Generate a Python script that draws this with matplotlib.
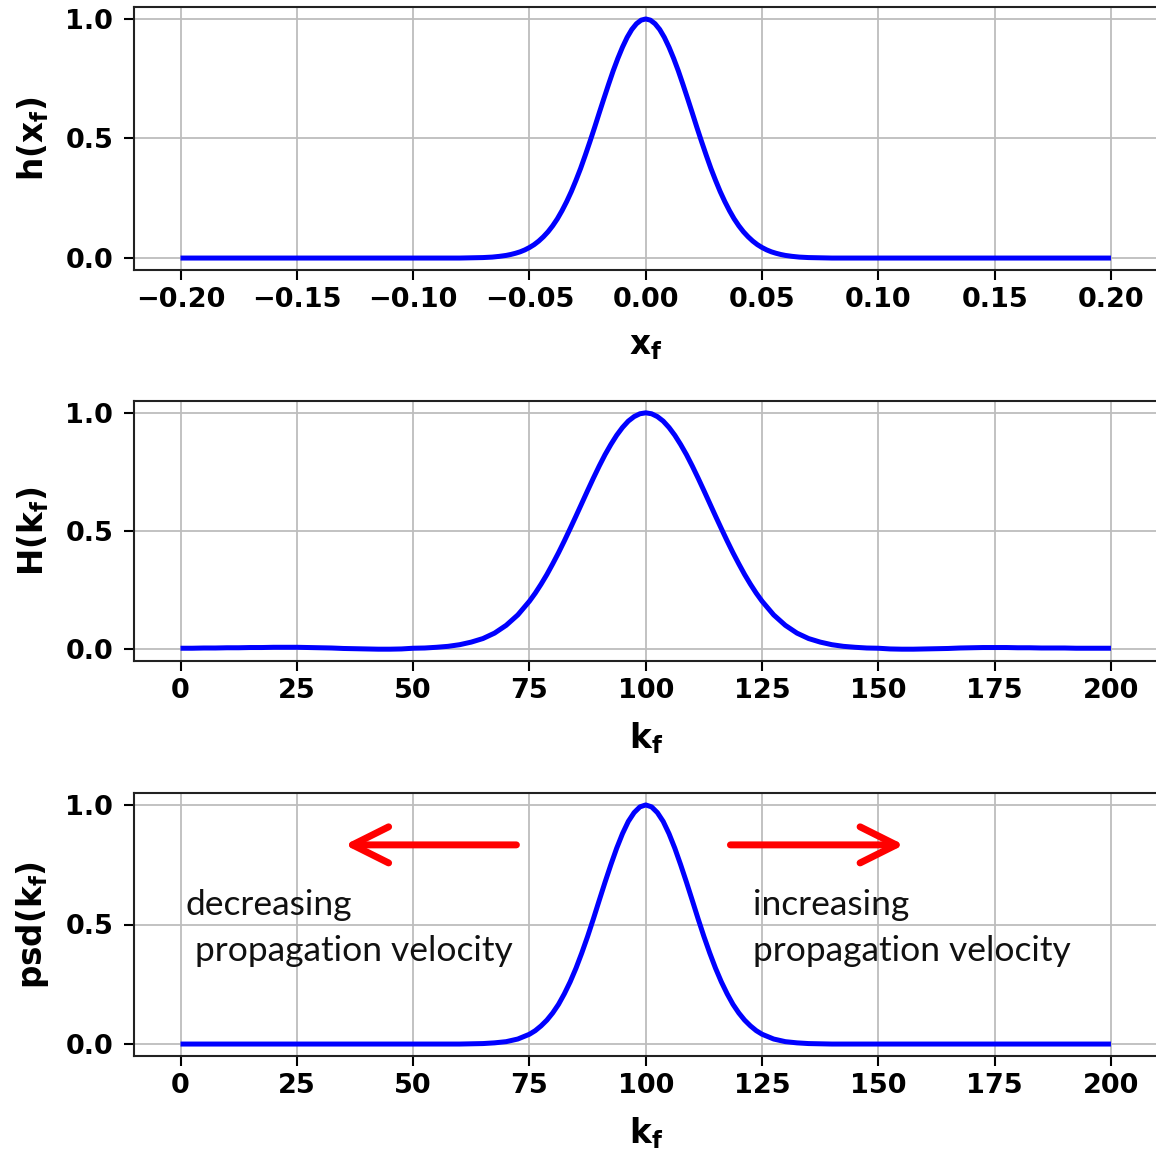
import matplotlib
matplotlib.use("Agg")
import matplotlib.pyplot as plt
from matplotlib.patches import FancyArrowPatch, ArrowStyle

# ---------------- data ----------------
x_f = [-0.200, -0.150, -0.100, -0.080, -0.075, -0.070, -0.066, -0.063,
       -0.060, -0.058, -0.056, -0.054, -0.052, -0.050, -0.048, -0.046, -0.044, -0.042,
       -0.040, -0.038, -0.036, -0.034, -0.032, -0.030, -0.028, -0.026, -0.024, -0.022,
       -0.020, -0.018, -0.016, -0.014, -0.012, -0.010, -0.008, -0.006, -0.004, -0.002,
       0.000,
       0.002, 0.004, 0.006, 0.008, 0.010, 0.012, 0.014, 0.016, 0.018, 0.020,
       0.022, 0.024, 0.026, 0.028, 0.030, 0.032, 0.034, 0.036, 0.038, 0.040,
       0.042, 0.044, 0.046, 0.048, 0.050, 0.052, 0.054, 0.056, 0.058, 0.060,
       0.063, 0.066, 0.070, 0.075, 0.080, 0.100, 0.150, 0.200]
h_x = [0.000, 0.000, 0.000, 0.000, 0.001, 0.002, 0.004, 0.007,
       0.011, 0.015, 0.020, 0.026, 0.034, 0.044, 0.056, 0.071, 0.089, 0.110,
       0.135, 0.164, 0.198, 0.236, 0.278, 0.325, 0.375, 0.430, 0.487, 0.546,
       0.607, 0.667, 0.726, 0.783, 0.835, 0.882, 0.923, 0.956, 0.980, 0.995,
       1.000,
       0.995, 0.980, 0.956, 0.923, 0.882, 0.835, 0.783, 0.726, 0.667, 0.607,
       0.546, 0.487, 0.430, 0.375, 0.325, 0.278, 0.236, 0.198, 0.164, 0.135,
       0.110, 0.089, 0.071, 0.056, 0.044, 0.034, 0.026, 0.020, 0.015, 0.011,
       0.007, 0.004, 0.002, 0.001, 0.000, 0.000, 0.000, 0.000]

k_f = [0.0, 2.5, 5.0, 7.5, 10.0, 12.5, 15.0, 17.5, 20.0, 22.5, 25.0, 27.5, 30.0, 32.5,
       35.0, 37.5, 40.0, 42.5, 45.0, 47.5, 50.0, 52.5, 55.0, 57.5, 60.0, 62.5, 65.0, 67.5,
       70.0, 72.5, 75.0,
       76.25, 77.5, 78.75, 80.0, 81.25, 82.5, 83.75, 85.0, 86.25, 87.5, 88.75, 90.0,
       91.25, 92.5, 93.75, 95.0, 96.25, 97.5, 98.75, 100.0,
       101.25, 102.5, 103.75, 105.0, 106.25, 107.5, 108.75, 110.0, 111.25, 112.5,
       113.75, 115.0, 116.25, 117.5, 118.75, 120.0, 121.25, 122.5, 123.75,
       125.0, 127.5, 130.0, 132.5, 135.0, 137.5, 140.0, 142.5, 145.0, 147.5, 150.0,
       152.5, 155.0, 157.5, 160.0, 162.5, 165.0, 167.5, 170.0, 172.5, 175.0, 177.5,
       180.0, 182.5, 185.0, 187.5, 190.0, 192.5, 195.0, 197.5, 200.0]
H_k = [0.004, 0.004, 0.005, 0.005, 0.006, 0.006, 0.007, 0.007, 0.008, 0.008, 0.008, 0.007,
       0.006, 0.005, 0.003, 0.002, 0.001, 0.000, 0.000, 0.001, 0.004, 0.005, 0.008, 0.012,
       0.019, 0.030, 0.045, 0.068, 0.101, 0.145, 0.203,
       0.237, 0.275, 0.316, 0.361, 0.408, 0.458, 0.510, 0.563, 0.617, 0.671, 0.724, 0.775,
       0.823, 0.866, 0.905, 0.938, 0.965, 0.984, 0.996, 1.000,
       0.996, 0.984, 0.965, 0.938, 0.905, 0.866, 0.823, 0.775, 0.724, 0.671,
       0.617, 0.563, 0.510, 0.458, 0.408, 0.361, 0.316, 0.275, 0.237,
       0.203, 0.145, 0.101, 0.068, 0.045, 0.030, 0.019, 0.012, 0.008, 0.005, 0.004,
       0.001, 0.000, 0.000, 0.001, 0.002, 0.003, 0.005, 0.006, 0.007, 0.007, 0.007,
       0.006, 0.006, 0.005, 0.005, 0.005, 0.004, 0.004, 0.004, 0.004]
psd_k = [0.000, 0.000, 0.000, 0.000, 0.000, 0.000, 0.000, 0.000, 0.000, 0.000, 0.000, 0.000,
         0.000, 0.000, 0.000, 0.000, 0.000, 0.000, 0.000, 0.000, 0.000, 0.000, 0.000, 0.000,
         0.000, 0.001, 0.002, 0.005, 0.010, 0.021, 0.041,
         0.056, 0.076, 0.100, 0.130, 0.166, 0.210, 0.260, 0.317, 0.381, 0.450, 0.524, 0.601,
         0.677, 0.750, 0.819, 0.880, 0.931, 0.968, 0.992, 1.000,
         0.992, 0.968, 0.931, 0.880, 0.819, 0.750, 0.677, 0.601, 0.524, 0.450,
         0.381, 0.317, 0.260, 0.210, 0.166, 0.130, 0.100, 0.076, 0.056,
         0.041, 0.021, 0.010, 0.005, 0.002, 0.001, 0.000, 0.000, 0.000, 0.000, 0.000,
         0.000, 0.000, 0.000, 0.000, 0.000, 0.000, 0.000, 0.000, 0.000, 0.000, 0.000,
         0.000, 0.000, 0.000, 0.000, 0.000, 0.000, 0.000, 0.000, 0.000]

x_ticks = [-0.20, -0.15, -0.10, -0.05, 0.00, 0.05, 0.10, 0.15, 0.20]
k_ticks = [0, 25, 50, 75, 100, 125, 150, 175, 200]
y_ticks = [0.0, 0.5, 1.0]

ylabels = [r"h(x$_\mathbf{f}$)", r"H(k$_\mathbf{f}$)", r"psd(k$_\mathbf{f}$)"]
xlabels = [r"x$_\mathbf{f}$", r"k$_\mathbf{f}$", r"k$_\mathbf{f}$"]

left_lines = ["decreasing", "propagation velocity"]
right_lines = ["increasing", "propagation velocity"]

# ---------------- figure ----------------
plt.rcParams["mathtext.fontset"] = "dejavusans"
W, H = 1156, 1153
fig = plt.figure(figsize=(W / 100, H / 100), dpi=100)

def frac_box(top_px, bottom_px, left_px=134, right_px=1157.5):
    return [left_px / W, 1 - bottom_px / H, (right_px - left_px) / W, (bottom_px - top_px) / H]

boxes = [frac_box(7, 270), frac_box(401, 661), frac_box(793, 1056)]
series = [(x_f, h_x), (k_f, H_k), (k_f, psd_k)]
xlims = [(-0.22, 0.22), (-10, 210), (-10, 210)]
xt = [x_ticks, k_ticks, k_ticks]

axes = []
for i in range(3):
    ax = fig.add_axes(boxes[i])
    xs, ys = series[i]
    ax.plot(xs, ys, color="#0000ff", lw=3.6, solid_capstyle="butt",
            solid_joinstyle="round", zorder=3)
    ax.set_xlim(*xlims[i])
    ax.set_ylim(-0.05, 1.05)
    ax.set_xticks(xt[i])
    ax.set_yticks(y_ticks)
    if i == 0:
        ax.set_xticklabels([f"{v:.2f}".replace("-", "\u2212") for v in x_ticks])
    else:
        ax.set_xticklabels([str(v) for v in k_ticks])
    ax.set_yticklabels([f"{v:.1f}" for v in y_ticks])
    ax.grid(True, color="#bdbdbd", lw=1.3)
    ax.set_axisbelow(True)
    for sp in ax.spines.values():
        sp.set_linewidth(1.5)
        sp.set_color("#222222")
    ax.tick_params(axis="both", length=7, width=1.5, labelsize=19.5)
    ax.tick_params(axis="x", pad=5)
    ax.tick_params(axis="y", pad=8)
    for lab in ax.get_xticklabels() + ax.get_yticklabels():
        lab.set_fontweight("bold")
    ax.set_xlabel(xlabels[i], fontsize=23.5, fontweight="bold", labelpad=12)
    ax.set_ylabel(ylabels[i], fontsize=23.5, fontweight="bold", labelpad=10)
    axes.append(ax)

ax3 = axes[2]
arrow_style = ArrowStyle("->", head_length=2.6, head_width=1.3)
for start, end in [((72.2, 0.833), (35.3, 0.833)), ((118.2, 0.833), (155.5, 0.833))]:
    ax3.add_patch(FancyArrowPatch(start, end, arrowstyle=arrow_style,
                                  mutation_scale=10, color="#ff0000", lw=5,
                                  shrinkA=0, shrinkB=0, capstyle="round",
                                  joinstyle="round", zorder=4))

text_kw = dict(fontsize=25.5, family="Lato", va="baseline", ha="left", zorder=5,
               color="#111111")
ax3.text(1.0, 0.540, left_lines[0], **text_kw)
ax3.text(3.2, 0.347, left_lines[1], **text_kw)
ax3.text(123.0, 0.540, right_lines[0], **text_kw)
ax3.text(123.0, 0.347, right_lines[1], **text_kw)

fig.savefig("out.png", dpi=100)
